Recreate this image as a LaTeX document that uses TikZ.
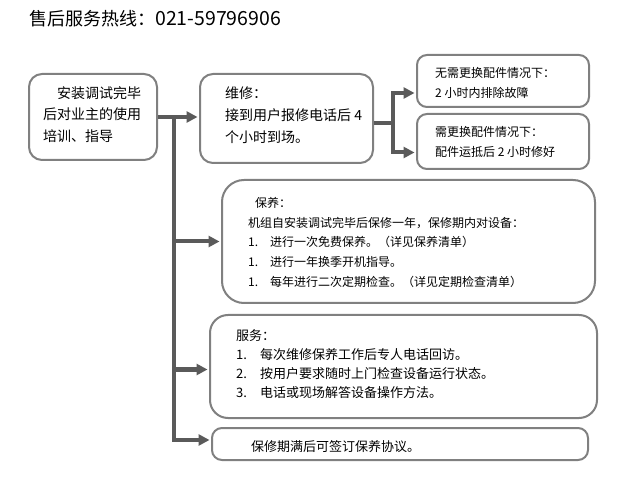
\documentclass[tikz,border=0pt]{standalone}
\usepackage{fontspec}
\setmainfont{Noto Sans CJK SC}
\usetikzlibrary{arrows.meta}
\definecolor{boxgray}{HTML}{808080}
\definecolor{linegray}{HTML}{5A5A5A}
\tikzset{
  box/.style={draw=boxgray, line width=2pt, fill=white, inner sep=0pt},
  conn/.style={draw=linegray, line width=4pt},
  arrowconn/.style={conn, -{Triangle[length=11pt,width=11pt]}, shorten >=1.5pt},
  txt/.style={anchor=base west, inner sep=0pt, align=left, text=black},
}
\newcommand{\fs}[2]{\fontsize{#1}{#2}\selectfont}
\newcommand{\itm}[2]{\makebox[#1][l]{#2}}
\begin{document}
\begin{tikzpicture}[x=1pt,y=-1pt]
\useasboundingbox (0,0) rectangle (641,492);
\fill[white] (0,0) rectangle (641,492);

% title
\node[txt, font=\fs{18}{20}] (title) at (29,26) {售后服务热线：{\fs{19.5}{20}021-59796906}};

% boxes
\node[box, minimum width=128pt, minimum height=86pt, rounded corners=13pt] (A) at (93,117) {};
\node[box, minimum width=173pt, minimum height=89pt, rounded corners=13pt] (B) at (286.5,118.5) {};
\node[box, minimum width=172pt, minimum height=52pt, rounded corners=10pt] (C1) at (503,81) {};
\node[box, minimum width=172pt, minimum height=55pt, rounded corners=10pt] (C2) at (503,141.5) {};
\node[box, minimum width=373pt, minimum height=123pt, rounded corners=22pt] (D) at (408.5,241.5) {};
\node[box, minimum width=387pt, minimum height=103pt, rounded corners=18pt] (E) at (403.5,366.5) {};
\node[box, minimum width=376pt, minimum height=32pt, rounded corners=10pt] (F) at (400,444) {};

% texts (anchor = baseline of last line)
\node[txt, font=\fs{14}{21.5}] (tA) at (43,141.5) {\hspace*{1em}安装调试完毕\\后对业主的使用\\培训、指导};
\node[txt, font=\fs{14}{22}] (tB) at (225,142.5) {维修：\\接到用户报修电话后 4\\个小时到场。};
\node[txt, font=\fs{12}{20}] (tC1) at (435,97.5) {无需更换配件情况下：\\2 小时内排除故障};
\node[txt, font=\fs{12}{20}] (tC2) at (435,156.5) {需更换配件情况下：\\配件运抵后 2 小时修好};
\node[txt, font=\fs{12}{19.75}] (tD) at (248,286.5) {\hspace*{7pt}保养：\\机组自安装调试完毕后保修一年，保修期内对设备：\\\itm{22pt}{1.}进行一次免费保养。（详见保养清单）\\\itm{22pt}{1.}进行一年换季开机指导。\\\itm{22pt}{1.}每年进行二次定期检查。（详见定期检查清单）};
\node[txt, font=\fs{13}{19}] (tE) at (236,397) {服务：\\\itm{24pt}{1.}每次维修保养工作后专人电话回访。\\\itm{24pt}{2.}按用户要求随时上门检查设备运行状态。\\\itm{24pt}{3.}电话或现场解答设备操作方法。};
\node[txt, font=\fs{13}{19}] (tF) at (251,451) {保修期满后可签订保养协议。};

% connectors from A
\draw[arrowconn] (A.east) -- (A.east -| B.west);
\coordinate (J) at (174,117);
\draw[arrowconn] (J) |- ([yshift=4pt]F.west);
\draw[arrowconn] (J |- D.west) -- (D.west);
\draw[arrowconn] ([yshift=-3pt]J |- E.west) -- ([yshift=-3pt]E.west);

% connectors from B
\coordinate (K) at (393,123);
\coordinate (c1in) at ([yshift=-12pt]C1.west);
\coordinate (c2in) at ([yshift=-11pt]C2.west);
\draw[conn] (K -| B.east) -- (K);
\draw[arrowconn] (K) |- (c1in);
\draw[arrowconn] (K) |- (c2in);
\end{tikzpicture}
\end{document}
